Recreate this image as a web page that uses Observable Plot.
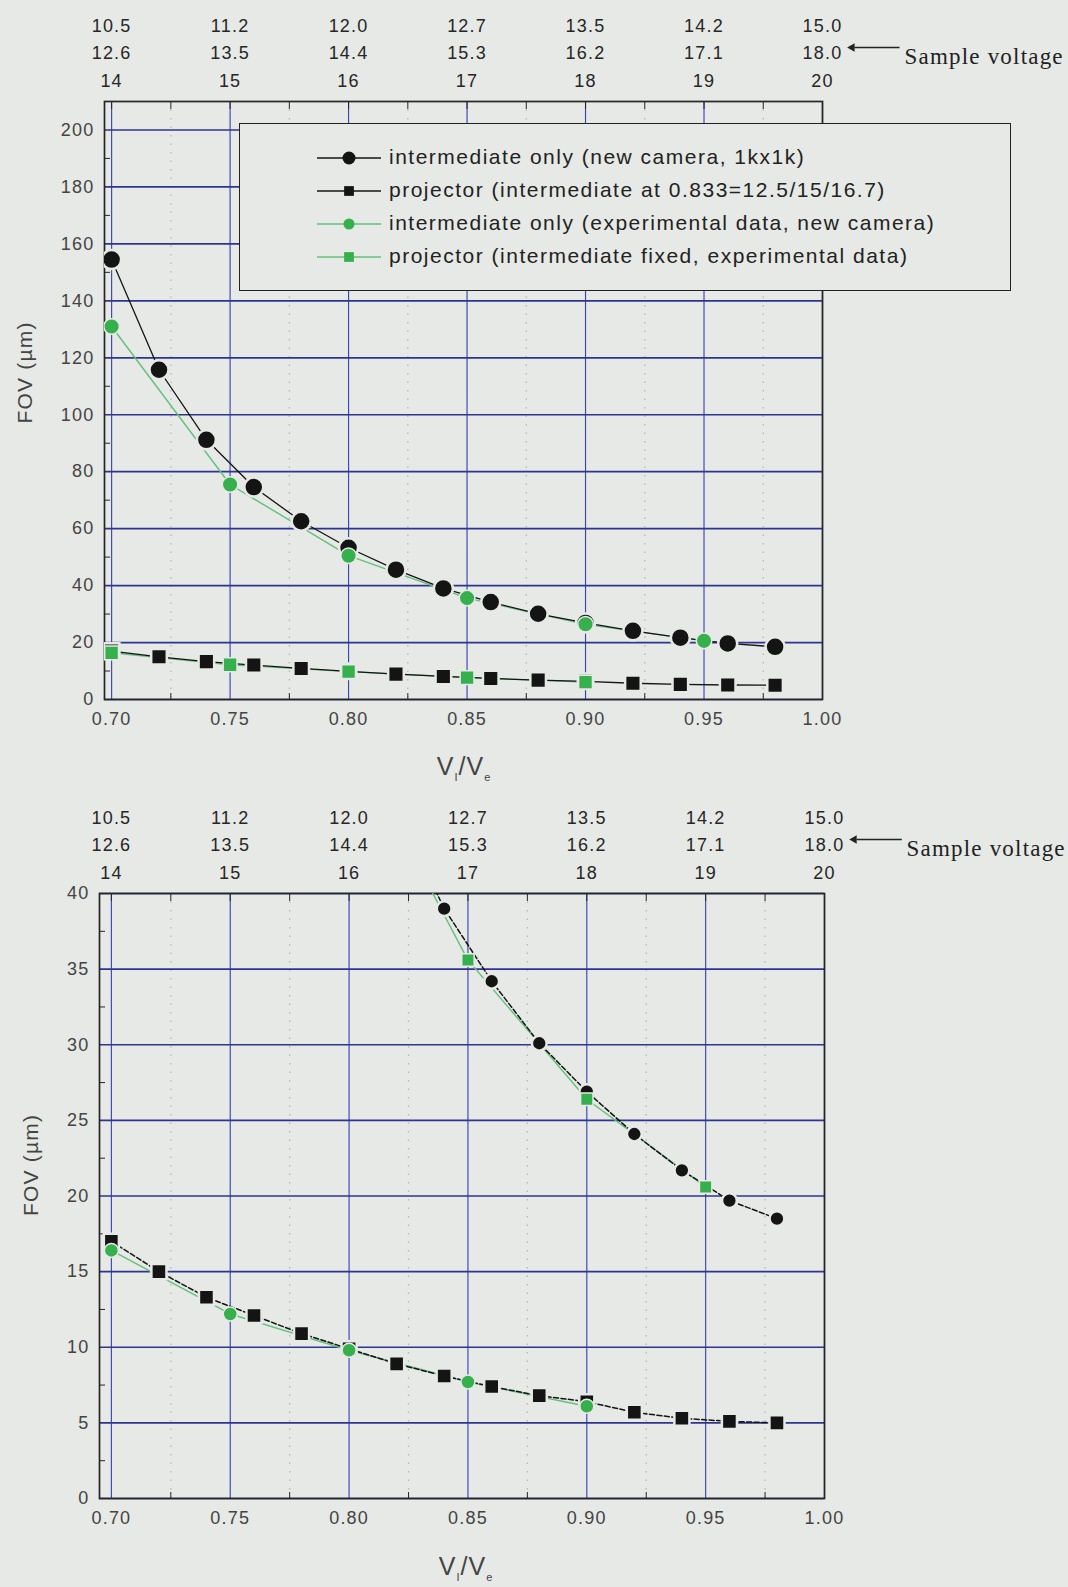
<!DOCTYPE html>
<html><head><meta charset="utf-8">
<script src="https://cdn.jsdelivr.net/npm/d3@7"></script>
<script src="https://cdn.jsdelivr.net/npm/@observablehq/plot@0.6"></script>
<style>
body{margin:0;background:#e6e9e5;}
#wrap{position:relative;width:1068px;height:1587px;background:#e6e9e5;overflow:hidden;font-family:"Liberation Sans",Arial,sans-serif;}
.chart{position:absolute;left:0;}
.xlab{position:absolute;font-size:25px;color:#444;transform:translate(-50%,-50%);white-space:nowrap;letter-spacing:1px;}
.xlab sub{font-size:11px;}
#legend{position:absolute;left:239px;top:123px;width:770px;height:166px;border:1.6px solid #222;background:#e6e9e5;}
.lrow{position:absolute;left:0;height:30px;width:760px;}
.lrow svg{position:absolute;left:76px;top:0;}
.lrow span{position:absolute;left:149px;top:2px;font-size:21px;letter-spacing:1.5px;color:#222;white-space:nowrap;}
</style>
</head><body>
<div id="wrap"></div>
<script>
// ---- data ----
const xMajor = [0.70, 0.75, 0.80, 0.85, 0.90, 0.95, 1.00];
const xMinor = [0.725, 0.775, 0.825, 0.875, 0.925, 0.975];
const voltRow1 = ["10.5", "11.2", "12.0", "12.7", "13.5", "14.2", "15.0"];
const voltRow2 = ["12.6", "13.5", "14.4", "15.3", "16.2", "17.1", "18.0"];
const voltRow3 = ["14", "15", "16", "17", "18", "19", "20"];
const sampleLabel = "Sample voltage";

const xAll = [0.70, 0.72, 0.74, 0.76, 0.78, 0.80, 0.82, 0.84, 0.86, 0.88, 0.90, 0.92, 0.94, 0.96, 0.98];
const fovIntermediate = [154.5, 115.8, 91.2, 74.6, 62.6, 53.3, 45.6, 39.0, 34.2, 30.1, 26.9, 24.1, 21.7, 19.7, 18.5];
const fovProjector = [17.0, 15.0, 13.3, 12.1, 10.9, 9.9, 8.9, 8.1, 7.4, 6.8, 6.4, 5.7, 5.3, 5.1, 5.0];
const xExpInt = [0.70, 0.75, 0.80, 0.85, 0.90, 0.95];
const fovIntermediateExp = [131.0, 75.5, 50.5, 35.6, 26.4, 20.6];
const xExpProj = [0.70, 0.75, 0.80, 0.85, 0.90];
const fovProjectorExp = [16.4, 12.2, 9.8, 7.7, 6.1];

const seriesNames = [
  "intermediate only (new camera, 1kx1k)",
  "projector (intermediate at 0.833=12.5/15/16.7)",
  "intermediate only (experimental data, new camera)",
  "projector (intermediate fixed, experimental data)"
];

const yTicksTop = d3.range(0, 201, 20);
const yMinorTop = d3.range(10, 201, 20);
const yTicksBot = d3.range(0, 41, 5);
const yMinorBot = d3.range(2.5, 40, 5);
const arrowAnno = [{x1: 1.0325, x2: 1.0135, head: 1.0125, label: 1.0}];

// ---- style ----
const BG = "#e6e9e5";
const BLACK = "#141414";
const GREEN = "#35b04c";
const GREENLINE = "#62c07c";

const mk = (xs, ys) => xs.map((x, i) => ({x, y: ys[i]}));
const dInt = mk(xAll, fovIntermediate);
const dProj = mk(xAll, fovProjector);
const dIntExp = mk(xExpInt, fovIntermediateExp);
const dProjExp = mk(xExpProj, fovProjectorExp);

function chart(o) {
  const yMax = o.yDomain[1];
  const xTicksAll = xMajor.concat(xMinor);
  return Plot.plot({
    width: 1068, height: o.height,
    marginTop: o.mTop, marginBottom: o.mBottom, marginLeft: o.mLeft, marginRight: o.mRight,
    x: {domain: o.xDomain, label: null},
    y: {domain: o.yDomain, label: null},
    style: {background: "transparent", fontFamily: "Liberation Sans, Arial, sans-serif", fontSize: "18px", color: "#3a3a3a", letterSpacing: "1.2px", overflow: "visible"},
    marks: [
      Plot.ruleX(xMinor, {stroke: "#b4b9b4", strokeDasharray: "1.5,7", strokeWidth: 1.3}),
      Plot.ruleX(xMajor, {stroke: "#3d45b5", strokeWidth: 1.15}),
      Plot.ruleY(o.yTicks, {stroke: "#2d3590", strokeWidth: 1.7}),
      Plot.frame({stroke: "#262626", strokeWidth: 1.7}),
      Plot.axisX({anchor: "top", ticks: xTicksAll, tickSize: 7, dy: 7, tickFormat: () => "", label: null, stroke: "#262626"}),
      Plot.axisX({anchor: "bottom", ticks: xMinor, tickSize: 6, dy: -6, tickFormat: () => "", label: null, stroke: "#262626"}),
      Plot.axisY({anchor: "left", ticks: o.yMinor, tickSize: 6, dx: 6, tickFormat: () => "", label: null, stroke: "#262626"}),
      Plot.axisX({anchor: "bottom", ticks: xMajor, tickSize: 0, tickPadding: 13, tickFormat: d3.format(".2f"), label: null, fill: "#444"}),
      Plot.axisY({anchor: "left", ticks: o.yTicks, tickSize: 0, tickPadding: 10, label: null, fill: "#444"}),
      // header voltage rows
      Plot.text(xMajor, {x: d => d, text: (d, i) => voltRow1[i], frameAnchor: "top", dy: -82, fill: "#262626", fontSize: 18}),
      Plot.text(xMajor, {x: d => d, text: (d, i) => voltRow2[i], frameAnchor: "top", dy: -55, fill: "#262626", fontSize: 18}),
      Plot.text(xMajor, {x: d => d, text: (d, i) => voltRow3[i], frameAnchor: "top", dy: -27, fill: "#262626", fontSize: 18}),
      Plot.text(arrowAnno, {x: "label", text: () => sampleLabel, frameAnchor: "top", dy: -54, dx: 82, textAnchor: "start", fontFamily: "Liberation Serif, Times New Roman, serif", fontSize: 23, fill: "#222"}),
      Plot.link(arrowAnno, {x1: "x1", x2: "x2", y1: () => yMax, y2: () => yMax, dy: -54, stroke: "#222", strokeWidth: 1.3}),
      Plot.dot(arrowAnno, {x: "head", y: () => yMax, dy: -54, symbol: "triangle", rotate: -90, r: 3.2, fill: "#222"}),
      // y title
      Plot.text(["FOV (\u00b5m)"], {text: d => d, frameAnchor: "left", rotate: -90, dx: o.yTitleDx, dy: o.yTitleDy, fontSize: 21, fill: "#444"}),
      // data lines
      Plot.line(dIntExp, {x: "x", y: "y", stroke: GREENLINE, strokeWidth: 1.4, clip: true}),
      Plot.line(dProjExp, {x: "x", y: "y", stroke: GREENLINE, strokeWidth: 1.4, clip: true}),
      Plot.line(dInt, {x: "x", y: "y", stroke: BLACK, strokeWidth: o.blackW, strokeDasharray: o.blackDash, clip: true}),
      Plot.line(dProj, {x: "x", y: "y", stroke: BLACK, strokeWidth: o.blackW, strokeDasharray: o.blackDash, clip: true}),
      // data markers
      Plot.dot(dInt, {x: "x", y: "y", symbol: "circle", r: o.rBC, fill: BLACK, stroke: BG, strokeWidth: 2.5, clip: true}),
      Plot.dot(dProj, {x: "x", y: "y", symbol: "square", r: o.rBS, fill: BLACK, stroke: BG, strokeWidth: 2.5, clip: true}),
      Plot.dot(dIntExp, {x: "x", y: "y", symbol: o.symIntExp, r: o.rG, fill: GREEN, stroke: BG, strokeWidth: 1.5, clip: true}),
      Plot.dot(dProjExp, {x: "x", y: "y", symbol: o.symProjExp, r: o.rG, fill: GREEN, stroke: BG, strokeWidth: 1.5, clip: true})
    ]
  });
}

const wrap = document.getElementById("wrap");

const c1 = chart({height: 745, mTop: 101, mBottom: 46, mLeft: 104, mRight: 246,
  xDomain: [0.697, 1.0], yDomain: [0, 210], yTicks: yTicksTop, yMinor: yMinorTop,
  yTitleDx: -79, yTitleDy: 23, blackDash: null, blackW: 1.3,
  rBC: 9.5, rBS: 8.8, rG: 7.8, symIntExp: "circle", symProjExp: "square"});
c1.classList.add("chart"); c1.style.top = "0px";
wrap.appendChild(c1);

const c2 = chart({height: 755, mTop: 103, mBottom: 47, mLeft: 99, mRight: 244,
  xDomain: [0.695, 1.0], yDomain: [0, 40], yTicks: yTicksBot, yMinor: yMinorBot,
  yTitleDx: -68, yTitleDy: 20, blackDash: "5,2.5", blackW: 1.5,
  rBC: 7.4, rBS: 8.5, rG: 7.0, symIntExp: "square", symProjExp: "circle"});
c2.classList.add("chart"); c2.style.top = "790px";
wrap.appendChild(c2);

// x titles
[[464, 767], [466, 1567]].forEach(([x, y]) => {
  const d = document.createElement("div");
  d.className = "xlab";
  d.style.left = x + "px"; d.style.top = y + "px";
  d.innerHTML = "V<sub>I</sub>/V<sub>e</sub>";
  wrap.appendChild(d);
});

// legend
const legend = document.createElement("div");
legend.id = "legend";
const legStyles = [
  {stroke: BLACK, fill: BLACK, sym: "circle", r: 6.5},
  {stroke: BLACK, fill: BLACK, sym: "square", r: 5.5},
  {stroke: GREENLINE, fill: GREEN, sym: "circle", r: 5.5},
  {stroke: GREENLINE, fill: GREEN, sym: "square", r: 5.5}
];
seriesNames.forEach((name, i) => {
  const row = document.createElement("div");
  row.className = "lrow";
  row.style.top = (19 + i * 33) + "px";
  const s = legStyles[i];
  const symPath = d3.symbol(s.sym === "circle" ? d3.symbolCircle : d3.symbolSquare, Math.PI * s.r * s.r)();
  row.innerHTML = `<svg width="66" height="30"><line x1="1" x2="65" y1="15" y2="15" stroke="${s.stroke}" stroke-width="1.6"/><path d="${symPath}" transform="translate(33,15)" fill="${s.fill}"/></svg><span>${name}</span>`;
  legend.appendChild(row);
});
wrap.appendChild(legend);
</script>
</body></html>
